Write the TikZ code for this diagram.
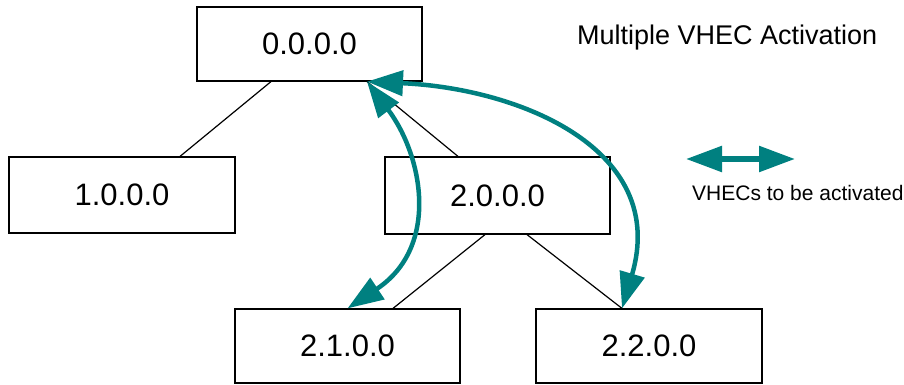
\documentclass[tikz,border=0pt]{standalone}
\usepackage{fontspec}
\setmainfont{Liberation Sans}
\usetikzlibrary{arrows.meta}
\definecolor{vteal}{RGB}{0,128,128}
\tikzset{
  hbox/.style={draw=black, line width=1.2pt, fill=white, rectangle, inner sep=0pt,
    minimum width=225pt, minimum height=74pt, font=\fontsize{31}{36}\selectfont},
  link/.style={draw=black, line width=1.2pt},
  vhec/.style={draw=vteal, line width=4.5pt,
    {Triangle[length=36pt,width=25pt]}-{Triangle[length=36pt,width=25pt]}},
  legarrow/.style={draw=vteal, line width=5.5pt,
    {Triangle[length=36pt,width=25pt]}-{Triangle[length=36pt,width=25pt]}}
}
\begin{document}
\begin{tikzpicture}[x=1pt,y=-1pt]
\useasboundingbox (0,0) rectangle (904,385);
\node[hbox] (a) at (309.5,44) {0.0.0.0};
\node[hbox, minimum width=226pt, minimum height=76pt] (b) at (122,195) {1.0.0.0};
\node[hbox, minimum height=77pt] (c) at (497.5,195.5) {2.0.0.0};
\node[hbox] (d) at (347.5,346) {2.1.0.0};
\node[hbox, minimum width=226pt] (e) at (649,346) {2.2.0.0};
\draw[link] ([xshift=-38.5pt]a.south) -- ([xshift=58pt]b.north);
\draw[link] ([xshift=57.5pt]a.south) -- ([xshift=-39.5pt]c.north);
\draw[link] ([xshift=-12.5pt]c.south) -- ([xshift=45.5pt]d.north);
\draw[link] ([xshift=29.5pt]c.south) -- ([xshift=-27pt]e.north);
\coordinate (atip) at ([xshift=57.5pt]a.south);
\draw[vhec] (atip) .. controls (423,156) and (440,247) .. (d.north);
\draw[vhec] (atip) .. controls (521,88.5) and (669,150) .. ([xshift=-27pt]e.north);
\node[anchor=base west, inner sep=0pt, font=\fontsize{27}{31}\selectfont] (title) at (577,45) {Multiple VHEC Activation};
\coordinate (legL) at (686,159);
\coordinate (legR) at (795,159);
\draw[legarrow] (legL) -- (legR);
\node[anchor=base west, inner sep=0pt, font=\fontsize{21}{25}\selectfont] (legtext) at (692,200) {VHECs to be activated};
\end{tikzpicture}
\end{document}
